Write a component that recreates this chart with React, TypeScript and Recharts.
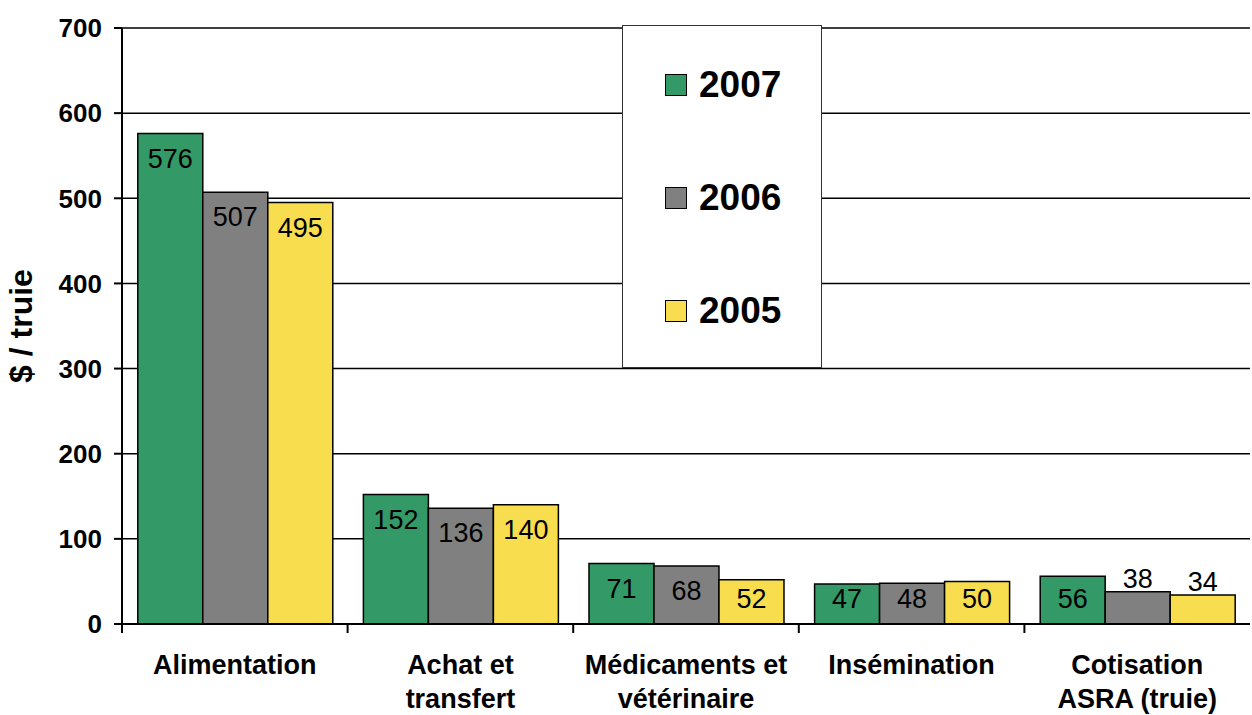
import { Bar, BarChart, CartesianGrid, LabelList, XAxis, YAxis } from "recharts";

const categories = [
  "Alimentation",
  "Achat et\ntransfert",
  "Médicaments et\nvétérinaire",
  "Insémination",
  "Cotisation\nASRA (truie)",
];
const values2007 = [576, 152, 71, 47, 56];
const values2006 = [507, 136, 68, 48, 38];
const values2005 = [495, 140, 52, 50, 34];
const yTicks = [0, 100, 200, 300, 400, 500, 600, 700];

const series = [
  { key: "y2007", name: "2007", color: "#339966" },
  { key: "y2006", name: "2006", color: "#808080" },
  { key: "y2005", name: "2005", color: "#F8DD4E" },
];

const data = categories.map((cat, i) => ({
  cat,
  y2007: values2007[i],
  y2006: values2006[i],
  y2005: values2005[i],
}));

const FONT = "Liberation Sans, Arial";

const BarValue = (props: any) => {
  const { x, y, width, height, value } = props;
  const cx = x + width / 2;
  const ty = height < 36 ? y - 4 : y + Math.min(34, height - 16);
  return (
    <text x={cx} y={ty} textAnchor="middle" fontSize={27} fontFamily={FONT} fill="#000">
      {value}
    </text>
  );
};

const CategoryTick = (props: any) => {
  const { x, y, payload } = props;
  const half = payload?.offset ?? 112.8;
  const lines = String(payload.value).split("\n");
  return (
    <g>
      <line x1={x - half} x2={x - half} y1={y - 9} y2={y + 1} stroke="#000" strokeWidth={2} />
      <text textAnchor="middle" fontSize={27} fontWeight="bold" fontFamily={FONT} fill="#000">
        {lines.map((l, i) => (
          <tspan key={i} x={x} y={y + 42 + i * 34}>
            {l}
          </tspan>
        ))}
      </text>
    </g>
  );
};

const LegendBox = () => (
  <div
    style={{
      position: "absolute",
      left: 622,
      top: 25,
      width: 198,
      height: 341,
      background: "#fff",
      border: "1.5px solid #333",
      fontFamily: FONT,
    }}
  >
    {series.map((s, i) => (
      <div
        key={s.key}
        style={{
          position: "absolute",
          left: 42,
          top: 40 + i * 113,
          display: "flex",
          alignItems: "center",
        }}
      >
        <div style={{ width: 20, height: 20, background: s.color, border: "1.5px solid #000", marginRight: 12 }} />
        <span style={{ fontSize: 37, fontWeight: "bold", lineHeight: "37px" }}>{s.name}</span>
      </div>
    ))}
  </div>
);

const App = () => {
  return (
    <div style={{ position: "absolute", left: 0, top: 0, width: 1252, height: 715, background: "#fff" }}>
      <BarChart
        width={1252}
        height={715}
        data={data}
        margin={{ top: 28, right: 2, left: 0, bottom: 0 }}
        barCategoryGap="7%"
        barGap={0}
      >
        <CartesianGrid vertical={false} stroke="#000" strokeWidth={1.5} />
        <XAxis
          dataKey="cat"
          height={91}
          axisLine={{ stroke: "#000", strokeWidth: 2 }}
          tickLine={false}
          tick={<CategoryTick />}
          interval={0}
        />
        <YAxis
          width={122}
          domain={[0, 700]}
          ticks={yTicks}
          interval={0}
          axisLine={{ stroke: "#000", strokeWidth: 2 }}
          tickLine={{ stroke: "#000", strokeWidth: 2 }}
          tickSize={8}
          tickMargin={12}
          tick={{ fill: "#000", fontSize: 26, fontWeight: "bold", fontFamily: FONT }}
          label={{
            value: "$ / truie",
            angle: -90,
            position: "insideLeft",
            offset: 21,
            style: { fill: "#000", fontSize: 32, fontWeight: "bold", fontFamily: FONT, textAnchor: "middle" },
          }}
        />
        {series.map((s) => (
          <Bar key={s.key} dataKey={s.key} name={s.name} fill={s.color} stroke="#000" strokeWidth={1.5} isAnimationActive={false}>
            <LabelList dataKey={s.key} content={<BarValue />} />
          </Bar>
        ))}
      </BarChart>
      <LegendBox />
    </div>
  );
};

export default App;
